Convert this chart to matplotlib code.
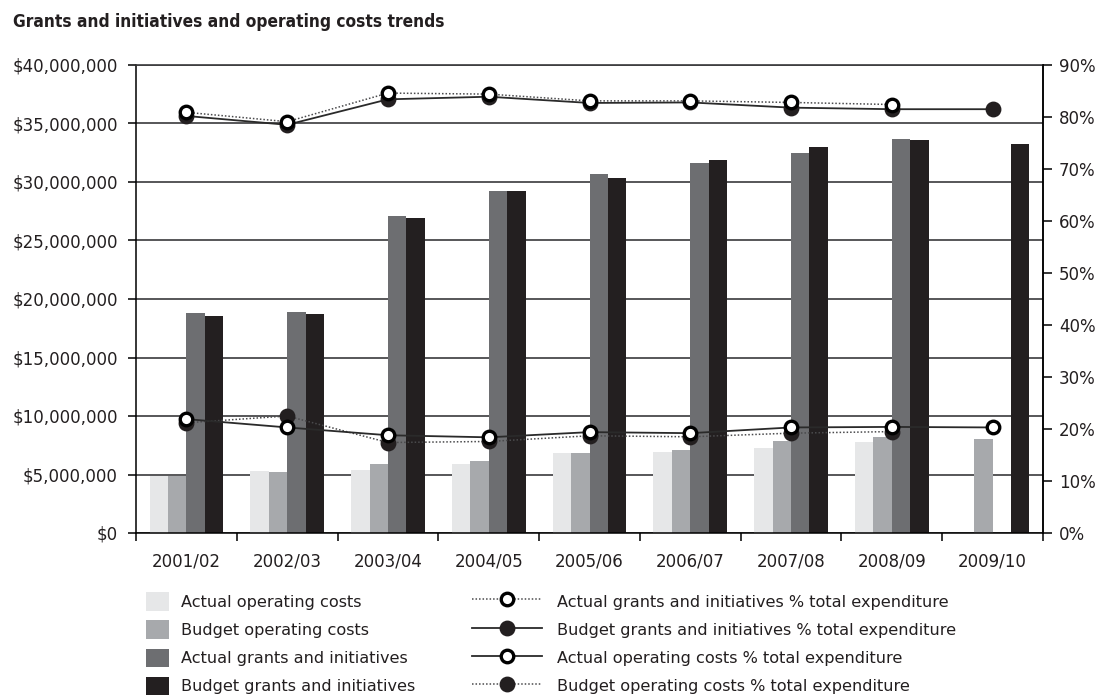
import numpy as np
import matplotlib
matplotlib.use("Agg")
import matplotlib.pyplot as plt
from matplotlib import font_manager as fm
from matplotlib.lines import Line2D
from matplotlib.patches import Patch

# ---------------- data ----------------
years = ["2001/02", "2002/03", "2003/04", "2004/05", "2005/06",
         "2006/07", "2007/08", "2008/09", "2009/10"]
actual_operating = [4.9e6, 5.3e6, 5.38e6, 5.9e6, 6.84e6, 6.92e6, 7.27e6, 7.78e6, np.nan]
budget_operating = [4.87e6, 5.2e6, 5.9e6, 6.15e6, 6.84e6, 7.1e6, 7.86e6, 8.2e6, 8.03e6]
actual_grants = [18.8e6, 18.9e6, 27.1e6, 29.2e6, 30.7e6, 31.6e6, 32.5e6, 33.7e6, np.nan]
budget_grants = [18.55e6, 18.7e6, 26.9e6, 29.2e6, 30.3e6, 31.9e6, 33.0e6, 33.6e6, 33.25e6]

actual_grants_pct = [80.9, 79.1, 84.6, 84.4, 83.1, 83.1, 82.8, 82.4, np.nan]
budget_grants_pct = [80.2, 78.5, 83.4, 83.9, 82.7, 82.8, 81.8, 81.5, 81.5]
actual_operating_pct = [21.9, 20.3, 18.8, 18.4, 19.4, 19.2, 20.3, 20.4, 20.3]
budget_operating_pct = [21.2, 22.5, 17.4, 17.6, 18.7, 18.5, 19.2, 19.5, np.nan]

left_ticks = [0, 5e6, 10e6, 15e6, 20e6, 25e6, 30e6, 35e6, 40e6]
left_labels = ["$0", "$5,000,000", "$10,000,000", "$15,000,000", "$20,000,000",
               "$25,000,000", "$30,000,000", "$35,000,000", "$40,000,000"]
right_ticks = [0, 10, 20, 30, 40, 50, 60, 70, 80, 90]
right_labels = [f"{v}%" for v in right_ticks]

title = "Grants and initiatives and operating costs trends"
bar_labels = ["Actual operating costs", "Budget operating costs",
              "Actual grants and initiatives", "Budget grants and initiatives"]
line_labels = ["Actual grants and initiatives % total expenditure",
               "Budget grants and initiatives % total expenditure",
               "Actual operating costs % total expenditure",
               "Budget operating costs % total expenditure"]

# ---------------- style ----------------
TXT = "#231f20"
c_light, c_mid, c_dark, c_black = "#e6e7e8", "#a7a9ac", "#6d6e71", "#231f20"
GRID = "#3a3a3c"
plt.rcParams["font.family"] = ["DejaVu Sans"]
plt.rcParams["font.size"] = 12

W, H = 1105, 697
fig = plt.figure(figsize=(W / 100, H / 100), dpi=100)
ax = fig.add_axes([136 / W, 1 - 533 / H, (1043 - 136) / W, (533 - 65) / H])

x = np.arange(len(years))
bw = 0.183
offs = [-1.5 * bw, -0.5 * bw, 0.5 * bw, 1.5 * bw]
for vals, col, o in zip([actual_operating, budget_operating, actual_grants, budget_grants],
                        [c_light, c_mid, c_dark, c_black], offs):
    ax.bar(x + o, vals, width=bw, color=col, linewidth=0, zorder=2)

ax.set_xlim(-0.5, len(years) - 0.5)
ax.set_ylim(0, 40e6)
ax.set_yticks(left_ticks)
ax.set_yticklabels(left_labels, color=TXT, fontsize=12)
ax.yaxis.grid(True, color=GRID, linewidth=1.2, zorder=0)
ax.set_axisbelow(True)
ax.set_xticks(x)
ax.set_xticklabels(years, color=TXT, fontsize=12)
ax.set_xticks(np.arange(-0.5, len(years)), minor=True)
ax.tick_params(axis="x", which="major", length=0, pad=14)
ax.tick_params(axis="x", which="minor", length=5.5, width=1.1, color="black")
ax.tick_params(axis="y", length=6, width=1.1, color="black", pad=7)
for s in ["left", "bottom", "right"]:
    ax.spines[s].set_color("black")
    ax.spines[s].set_linewidth(1.1)
ax.spines["top"].set_color(GRID)
ax.spines["top"].set_linewidth(1.2)

ax2 = ax.twinx()
ax2.set_ylim(0, 90)
ax2.set_yticks(right_ticks)
ax2.set_yticklabels(right_labels, color=TXT, fontsize=12)
ax2.tick_params(axis="y", length=6.5, width=1.1, color="black", pad=5)
for s in ["left", "top", "bottom"]:
    ax2.spines[s].set_visible(False)
ax2.spines["right"].set_color("black")
ax2.spines["right"].set_linewidth(1.1)

ms, mew = 9, 2.4
styles = {
    "ag": dict(ls=(0, (1, 1.3)), lw=1.1, color="#4a4a4c", marker="o", mfc="white", mec="black"),
    "bg": dict(ls="-", lw=1.3, color="#2a2a2a", marker="o", mfc=c_black, mec=c_black),
    "ao": dict(ls="-", lw=1.3, color="#2a2a2a", marker="o", mfc="white", mec="black"),
    "bo": dict(ls=(0, (1, 1.3)), lw=1.1, color="#4a4a4c", marker="o", mfc=c_black, mec=c_black),
}
ax2.plot(x, budget_grants_pct, ms=ms, mew=mew, zorder=3, **styles["bg"])
ax2.plot(x, budget_operating_pct, ms=ms, mew=mew, zorder=3, **styles["bo"])
ax2.plot(x, actual_grants_pct, ms=ms, mew=mew, zorder=4, **styles["ag"])
ax2.plot(x, actual_operating_pct, ms=ms, mew=mew, zorder=4, **styles["ao"])

# ---------------- title ----------------
tfont = None
for f in fm.findSystemFonts():
    if f.endswith("DejaVuSansCondensed-Bold.ttf"):
        tfont = fm.FontProperties(fname=f, size=12.4)
        break
if tfont is None:
    tfont = fm.FontProperties(family="DejaVu Sans", weight="bold", size=11)
fig.text(13 / W, 1 - 27 / H, title, fontproperties=tfont, color=TXT,
         ha="left", va="baseline")

# ---------------- legends ----------------
LFS = 11.6
bar_handles = [Patch(facecolor=c, edgecolor="none") for c in [c_light, c_mid, c_dark, c_black]]
leg1 = fig.legend(bar_handles, bar_labels, loc="upper left",
                  bbox_to_anchor=(146 / W, 1 - 592 / H), frameon=False,
                  borderpad=0, borderaxespad=0, handlelength=1.4, handleheight=1.4,
                  handletextpad=0.75, labelspacing=0.6, fontsize=LFS)
for t in leg1.get_texts():
    t.set_color(TXT)

line_handles = [Line2D([], [], ms=ms, mew=mew, **styles[k]) for k in ["ag", "bg", "ao", "bo"]]
leg2 = fig.legend(line_handles, line_labels, loc="upper left",
                  bbox_to_anchor=(472 / W, 1 - 592 / H), frameon=False,
                  borderpad=0, borderaxespad=0, handlelength=4.35, handleheight=1.4,
                  handletextpad=0.95, labelspacing=0.6, fontsize=LFS, numpoints=1)
for t in leg2.get_texts():
    t.set_color(TXT)

fig.savefig("out.png", dpi=100)
